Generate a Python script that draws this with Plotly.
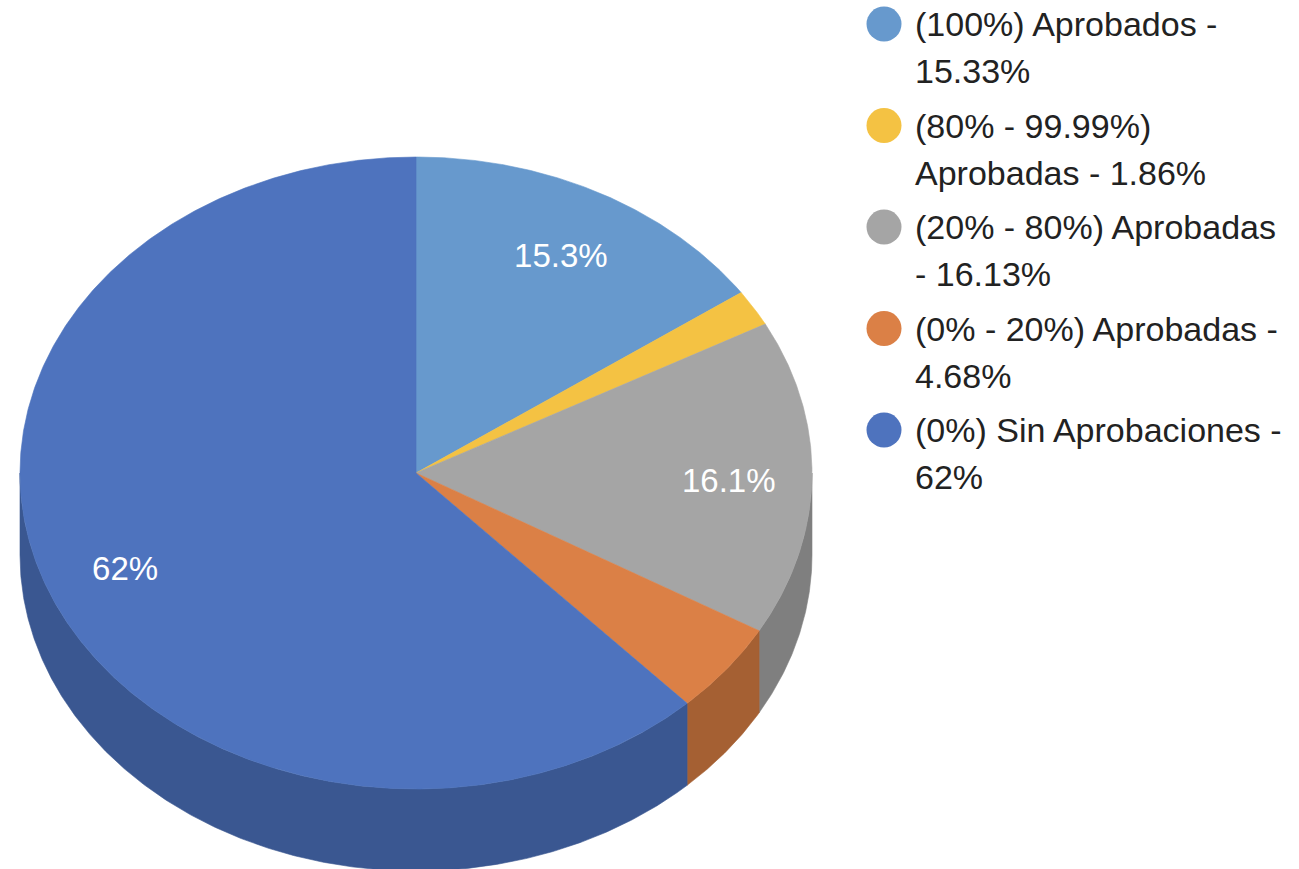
import numpy as np
import plotly.graph_objects as go

# ---------------- data ----------------
categories = [
    "(100%) Aprobados",
    "(80% - 99.99%) Aprobadas",
    "(20% - 80%) Aprobadas",
    "(0% - 20%) Aprobadas",
    "(0%) Sin Aprobaciones",
]
values = [15.33, 1.86, 16.13, 4.68, 62.0]
legend_lines = [
    ["(100%) Aprobados -", "15.33%"],
    ["(80% - 99.99%)", "Aprobadas - 1.86%"],
    ["(20% - 80%) Aprobadas", "- 16.13%"],
    ["(0% - 20%) Aprobadas -", "4.68%"],
    ["(0%) Sin Aprobaciones -", "62%"],
]

# ---------------- styles / geometry ----------------
top_colors = ["#6799CD", "#F4C243", "#A5A5A5", "#DB8046", "#4E73BE"]
side_colors = ["#4D73A0", "#B79232", "#7F7F7F", "#A56033", "#3A5791"]
W, H = 1299, 869
CX, CY, RX, RY, DEPTH = 416, 473, 396, 316, 82
LABEL_FRAC = 0.79
LABEL_DY = 7
FONT = "Liberation Sans, Arial, Helvetica, sans-serif"


def ex(t):
    return CX + RX * np.sin(np.radians(t))


def ey(t):
    return CY - RY * np.cos(np.radians(t))


total = float(sum(values))
bounds = np.concatenate([[0.0], np.cumsum(values) / total * 360.0])

fig = go.Figure()

# side walls (front half only)
for i, v in enumerate(values):
    a0, a1 = bounds[i], bounds[i + 1]
    lo, hi = max(a0, 90.0), min(a1, 270.0)
    if hi <= lo:
        continue
    t = np.linspace(lo, hi, max(int((hi - lo) * 3), 4))
    xs = np.concatenate([ex(t), ex(t[::-1])])
    ys = np.concatenate([ey(t), ey(t[::-1]) + DEPTH])
    xs = np.append(xs, xs[0])
    ys = np.append(ys, ys[0])
    fig.add_trace(go.Scatter(
        x=xs, y=ys, mode="lines", fill="toself",
        fillcolor=side_colors[i], line=dict(color=side_colors[i], width=0.6),
        hoverinfo="skip", showlegend=False))

# top face slices
for i, v in enumerate(values):
    a0, a1 = bounds[i], bounds[i + 1]
    t = np.linspace(a0, a1, max(int((a1 - a0) * 3), 4))
    xs = np.concatenate([[CX], ex(t), [CX]])
    ys = np.concatenate([[CY], ey(t), [CY]])
    fig.add_trace(go.Scatter(
        x=xs, y=ys, mode="lines", fill="toself",
        fillcolor=top_colors[i], line=dict(color=top_colors[i], width=0.6),
        name=categories[i], hovertemplate=f"{categories[i]}: {v}%<extra></extra>",
        showlegend=False))

# slice labels
lx, ly, lt = [], [], []
for i, v in enumerate(values):
    if v / total * 100 < 10:
        continue
    mid = (bounds[i] + bounds[i + 1]) / 2
    lx.append(CX + LABEL_FRAC * RX * np.sin(np.radians(mid)))
    ly.append(CY - LABEL_FRAC * RY * np.cos(np.radians(mid)) + LABEL_DY)
    lt.append(f"{v / total * 100:.3g}%")
fig.add_trace(go.Scatter(
    x=lx, y=ly, mode="text", text=lt,
    textfont=dict(color="white", size=33, family=FONT),
    hoverinfo="skip", showlegend=False))

# manual legend (large circle markers like the original)
LEG_X, LEG_Y0, LEG_STEP, LINE_STEP, DOT_R = 884, 24, 101.5, 47, 17.5
shapes, annotations = [], []
for i, lines in enumerate(legend_lines):
    yc = LEG_Y0 + i * LEG_STEP
    shapes.append(dict(type="circle", xref="x", yref="y",
                       x0=LEG_X - DOT_R, x1=LEG_X + DOT_R,
                       y0=yc - DOT_R, y1=yc + DOT_R,
                       fillcolor=top_colors[i], line=dict(width=0)))
    for j, ln in enumerate(lines):
        annotations.append(dict(x=913, y=yc + j * LINE_STEP, xref="x", yref="y",
                                text=ln, showarrow=False, xanchor="left",
                                yanchor="middle",
                                font=dict(size=34, color="#222222", family=FONT)))

fig.update_layout(
    width=W, height=H,
    margin=dict(l=0, r=0, t=0, b=0),
    paper_bgcolor="white", plot_bgcolor="white",
    xaxis=dict(range=[0, W], visible=False, fixedrange=True),
    yaxis=dict(range=[H, 0], visible=False, fixedrange=True),
    shapes=shapes, annotations=annotations,
    showlegend=False,
)

fig.write_html("out.html")
